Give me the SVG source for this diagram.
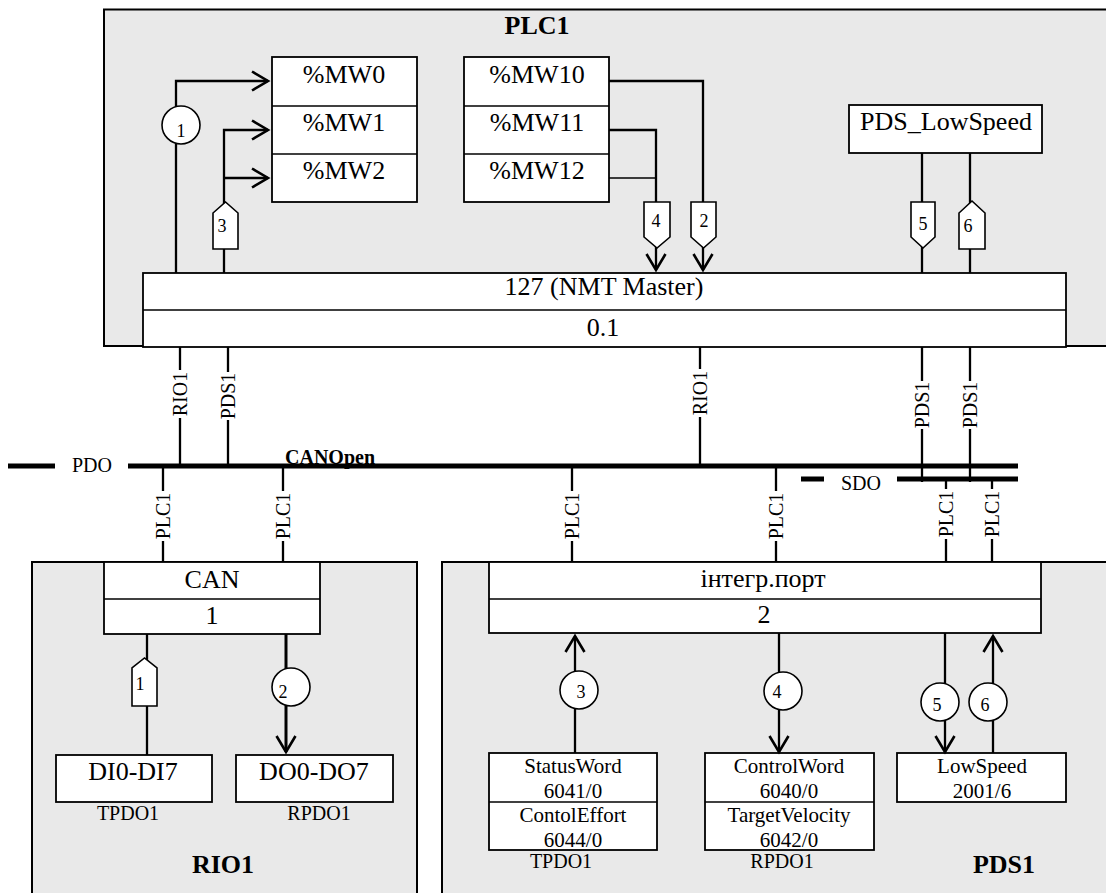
<svg xmlns="http://www.w3.org/2000/svg" width="1106" height="893" viewBox="0 0 1106 893">
<defs>
<style>
text{font-family:"Liberation Serif","Times New Roman",serif;fill:#000}
.area{fill:#e9e9e9;stroke:#000;stroke-width:2}
.box{fill:#fff;stroke:#000;stroke-width:1.8}
.ln{fill:none;stroke:#000;stroke-width:2.3}
.thk{stroke-width:3}
.thin{fill:none;stroke:#000;stroke-width:1.3}
.bus{fill:none;stroke:#000;stroke-width:5}
.tag{fill:#fff;stroke:#000;stroke-width:1.6}
.big{font-size:26px}
.mid{font-size:21px}
.sm{font-size:20px}
.num{font-size:18px}
.bold{font-weight:bold}
.c{text-anchor:middle}
.lblbg{fill:#fff}
</style>
<marker id="ah" markerWidth="22" markerHeight="24" refX="19" refY="12" orient="auto" markerUnits="userSpaceOnUse">
<path d="M3,2.5 L19,12 L3,21.5" fill="none" stroke="#000" stroke-width="2.6"/>
</marker>
</defs>
<rect width="1106" height="893" fill="#fff"/>

<g id="PLC1">
<rect class="area" x="104" y="9.5" width="1010" height="336.5"/>
<text class="big bold c" x="537" y="34">PLC1</text>
</g>
<g id="RIO1">
<rect class="area" x="32" y="562" width="385" height="340"/>
<text class="big bold c" x="223" y="873">RIO1</text>
</g>
<g id="PDS1">
<rect class="area" x="442" y="562" width="680" height="340"/>
<text class="big bold c" x="1004" y="873">PDS1</text>
</g>

<g id="MW0-2">
<rect class="box" x="272" y="57" width="145" height="145"/>
<line class="thin" x1="272" y1="106" x2="417" y2="106"/>
<line class="thin" x1="272" y1="154" x2="417" y2="154"/>
<text class="big c" x="344" y="83">%MW0</text>
<text class="big c" x="344" y="131">%MW1</text>
<text class="big c" x="344" y="179">%MW2</text>
</g>
<g id="MW10-12">
<rect class="box" x="464" y="57" width="145" height="145"/>
<line class="thin" x1="464" y1="106" x2="609" y2="106"/>
<line class="thin" x1="464" y1="154" x2="609" y2="154"/>
<text class="big c" x="537" y="83">%MW10</text>
<text class="big c" x="537" y="131">%MW11</text>
<text class="big c" x="537" y="179">%MW12</text>
</g>
<g id="PDS_LowSpeed">
<rect class="box" x="849" y="105" width="193" height="48"/>
<text class="big c" x="946" y="130">PDS_LowSpeed</text>
</g>
<g id="NMT_Master">
<rect class="box" x="143" y="273" width="923" height="74"/>
<line class="thin" x1="143" y1="310" x2="1066" y2="310"/>
<text class="big c" x="604" y="295">127 (NMT Master)</text>
<text class="big c" x="603" y="336">0.1</text>
</g>
<g id="CAN">
<rect class="box" x="104" y="562" width="216" height="72"/>
<line class="thin" x1="104" y1="599" x2="320" y2="599"/>
<text class="big c" x="212" y="588">CAN</text>
<text class="big c" x="212" y="624">1</text>
</g>
<g id="integr_port">
<rect class="box" x="489" y="562" width="552" height="71"/>
<line class="thin" x1="489" y1="599" x2="1041" y2="599"/>
<text class="big c" x="763" y="587">інтегр.порт</text>
<text class="big c" x="764" y="623">2</text>
</g>
<g id="DI0-DI7">
<rect class="box" x="56" y="755" width="156" height="47"/>
<text class="big c" x="133" y="780">DI0-DI7</text>
<text class="sm c" x="128" y="820">TPDO1</text>
</g>
<g id="DO0-DO7">
<rect class="box" x="236" y="755" width="157" height="47"/>
<text class="big c" x="314" y="780">DO0-DO7</text>
<text class="sm c" x="319" y="820">RPDO1</text>
</g>
<g id="StatusWord">
<rect class="box" x="489" y="753" width="168" height="97"/>
<line class="thin" x1="489" y1="802" x2="657" y2="802"/>
<text class="mid c" x="573" y="773">StatusWord</text>
<text class="mid c" x="573" y="798">6041/0</text>
<text class="mid c" x="573" y="822">ContolEffort</text>
<text class="mid c" x="573" y="847">6044/0</text>
<text class="sm c" x="561" y="868">TPDO1</text>
</g>
<g id="ControlWord">
<rect class="box" x="705" y="753" width="169" height="97"/>
<line class="thin" x1="705" y1="802" x2="874" y2="802"/>
<text class="mid c" x="789" y="773">ControlWord</text>
<text class="mid c" x="789" y="798">6040/0</text>
<text class="mid c" x="789" y="822">TargetVelocity</text>
<text class="mid c" x="789" y="847">6042/0</text>
<text class="sm c" x="782" y="868">RPDO1</text>
</g>
<g id="LowSpeed">
<rect class="box" x="897" y="753" width="169" height="49"/>
<text class="mid c" x="982" y="773">LowSpeed</text>
<text class="mid c" x="982" y="798">2001/6</text>
</g>

<g id="connectors">
<path class="ln" d="M176,273 V81 H268" marker-end="url(#ah)"/>
<circle class="tag" cx="181" cy="125" r="19"/>
<text class="num c" x="181" y="137">1</text>
<path class="ln" d="M224,273 V130 H268" marker-end="url(#ah)"/>
<path class="ln" d="M224,178 H268" marker-end="url(#ah)"/>
<polygon class="tag" points="213,249 213,213 225.5,202 238,213 238,249"/>
<text class="num c" x="222" y="232">3</text>
<path class="thin" d="M609,178 H656"/>
<path class="ln" d="M609,130 H656 V270" marker-end="url(#ah)"/>
<path class="ln" d="M609,81 H703 V270" marker-end="url(#ah)"/>
<polygon class="tag" points="644,202 670,202 670,237 657,248 644,237"/>
<text class="num c" x="656" y="227">4</text>
<polygon class="tag" points="691,202 716,202 716,237 703.5,248 691,237"/>
<text class="num c" x="704" y="227">2</text>
<path class="ln" d="M922,153 V273"/>
<path class="ln" d="M970,153 V273"/>
<polygon class="tag" points="911,202 935,202 935,237 923,248 911,237"/>
<text class="num c" x="923" y="230">5</text>
<polygon class="tag" points="959,249 959,213 972,201 985,213 985,249"/>
<text class="num c" x="968" y="232">6</text>

<path class="ln" d="M180,347 V466 M228,347 V466 M700,347 V466 M922,347 V482 M970,347 V482"/>
<path class="ln" d="M163,466 V562 M283,466 V562 M572,466 V562 M776,466 V562 M946,479 V562 M992,479 V562"/>

<rect class="lblbg" x="172" y="370" width="16" height="48"/>
<text class="sm c" transform="translate(187,394) rotate(-90)">RIO1</text>
<rect class="lblbg" x="220" y="372" width="16" height="48"/>
<text class="sm c" transform="translate(235,396) rotate(-90)">PDS1</text>
<rect class="lblbg" x="692" y="369" width="16" height="48"/>
<text class="sm c" transform="translate(707,393) rotate(-90)">RIO1</text>
<rect class="lblbg" x="914" y="381" width="16" height="48"/>
<text class="sm c" transform="translate(929,405) rotate(-90)">PDS1</text>
<rect class="lblbg" x="962" y="381" width="16" height="48"/>
<text class="sm c" transform="translate(977,405) rotate(-90)">PDS1</text>

<rect class="lblbg" x="155" y="491" width="16" height="50"/>
<text class="sm c" transform="translate(170,516) rotate(-90)">PLC1</text>
<rect class="lblbg" x="275" y="491" width="16" height="50"/>
<text class="sm c" transform="translate(290,516) rotate(-90)">PLC1</text>
<rect class="lblbg" x="564" y="491" width="16" height="50"/>
<text class="sm c" transform="translate(579,516) rotate(-90)">PLC1</text>
<rect class="lblbg" x="768" y="491" width="16" height="50"/>
<text class="sm c" transform="translate(783,516) rotate(-90)">PLC1</text>
<rect class="lblbg" x="938" y="489" width="16" height="50"/>
<text class="sm c" transform="translate(953,514) rotate(-90)">PLC1</text>
<rect class="lblbg" x="984" y="489" width="16" height="50"/>
<text class="sm c" transform="translate(999,514) rotate(-90)">PLC1</text>

<text class="sm bold" x="285" y="464">CANOpen</text>
<path class="bus" d="M8,466 H55 M128,466 H1018"/>
<text class="sm c" x="92" y="472">PDO</text>
<path class="bus" d="M801,479 H824 M897,479 H1018"/>
<text class="sm c" x="861" y="490">SDO</text>

<path class="ln" d="M147,634 V755"/>
<polygon class="tag" points="132,706 132,668 144.5,658 157,668 157,706"/>
<text class="num c" x="140" y="690">1</text>
<path class="ln thk" d="M286,634 V752" marker-end="url(#ah)"/>
<circle class="tag" cx="291" cy="687" r="19"/>
<text class="num c" x="283" y="698">2</text>

<path class="ln" d="M575,753 V636" marker-end="url(#ah)"/>
<circle class="tag" cx="579" cy="690" r="19"/>
<text class="num c" x="581" y="698">3</text>
<path class="ln" d="M779,633 V752" marker-end="url(#ah)"/>
<circle class="tag" cx="783" cy="691" r="19"/>
<text class="num c" x="777" y="698">4</text>
<path class="ln" d="M945,633 V752" marker-end="url(#ah)"/>
<circle class="tag" cx="940" cy="702" r="19"/>
<text class="num c" x="937" y="711">5</text>
<path class="ln" d="M993,753 V636" marker-end="url(#ah)"/>
<circle class="tag" cx="988" cy="702" r="19"/>
<text class="num c" x="985" y="711">6</text>
</g>
</svg>
